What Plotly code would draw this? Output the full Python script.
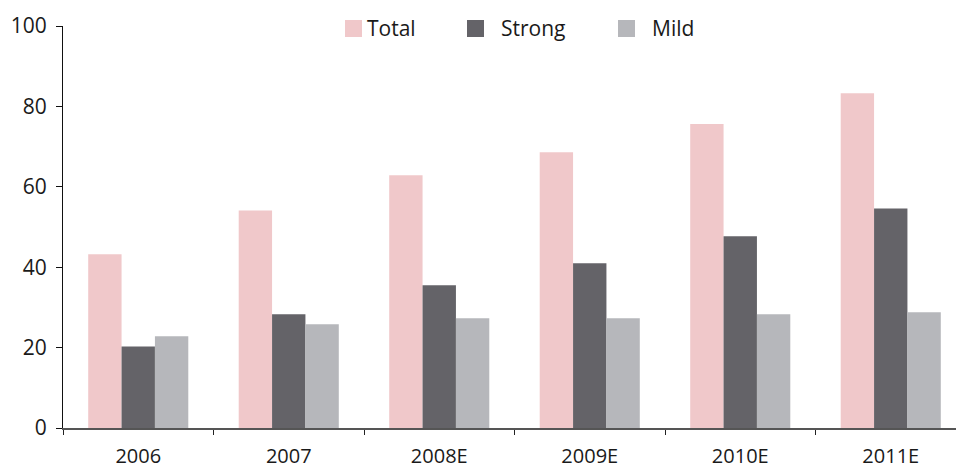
import plotly.graph_objects as go

categories = ["2006", "2007", "2008E", "2009E", "2010E", "2011E"]
series_names = ["Total", "Strong", "Mild"]
total = [43.2, 54.1, 62.9, 68.6, 75.6, 83.3]
strong = [20.3, 28.3, 35.5, 41.0, 47.7, 54.6]
mild = [22.8, 25.8, 27.3, 27.3, 28.3, 28.8]
y_ticks = [0, 20, 40, 60, 80, 100]

colors = ["#F0C8CA", "#646368", "#B6B7BB"]
values = [total, strong, mild]

W, H = 956, 470
L, R, T, B = 63, 0, 26, 42
cat_px = 150.5
plot_w = W - L - R
plot_h = H - T - B

fig = go.Figure()
for name, vals, c in zip(series_names, values, colors):
    fig.add_trace(go.Bar(x=list(range(len(categories))), y=vals, name=name,
                         marker=dict(color=c, line=dict(width=0)), showlegend=False))

FONT = "Open Sans, Noto Sans, sans-serif"

# manual legend (swatches + labels)
legend_items = [(345, 367), (467, 501), (618, 652)]
for (sx, tx), name, c in zip(legend_items, series_names, colors):
    fig.add_shape(type="rect", xref="paper", yref="paper",
                  x0=(sx - L) / plot_w, x1=(sx + 17 - L) / plot_w,
                  y0=1 - (37 - T) / plot_h, y1=1 - (20 - T) / plot_h,
                  fillcolor=c, line=dict(width=0))
    fig.add_annotation(xref="paper", yref="paper", x=(tx - L - 2) / plot_w,
                       y=1 - (28 - T) / plot_h, text=name, showarrow=False,
                       xanchor="left", yanchor="middle",
                       font=dict(family=FONT, size=21, color="#1a1a1a"))

fig.update_layout(
    width=W, height=H,
    margin=dict(l=L, r=R, t=T, b=B, pad=0, autoexpand=False),
    paper_bgcolor="white", plot_bgcolor="white",
    barmode="group", bargap=0.335, bargroupgap=0,
    showlegend=False,
    font=dict(family=FONT, size=21, color="#1a1a1a"),
)
fig.update_xaxes(
    automargin=False,
    tickmode="array", tickvals=list(range(len(categories))), ticktext=categories,
    tickfont=dict(size=20),
    range=[-0.5, -0.5 + plot_w / cat_px],
    showline=True, linecolor="#555555", linewidth=1.5,
    ticks="", showgrid=False, zeroline=False,
    ticklabelstandoff=9,
    minor=dict(tickmode="array", tickvals=[i - 0.5 for i in range(len(categories) + 1)],
               ticks="outside", ticklen=5, tickcolor="#222222", tickwidth=1.2),
)
fig.update_yaxes(
    automargin=False,
    range=[0, 100], tickvals=y_ticks,
    showline=True, linecolor="#111111", linewidth=1.2,
    ticks="outside", ticklen=6, tickcolor="#111111", tickwidth=1.2,
    showgrid=False, zeroline=False,
    ticklabelstandoff=5,
)

fig.write_html("out.html")
